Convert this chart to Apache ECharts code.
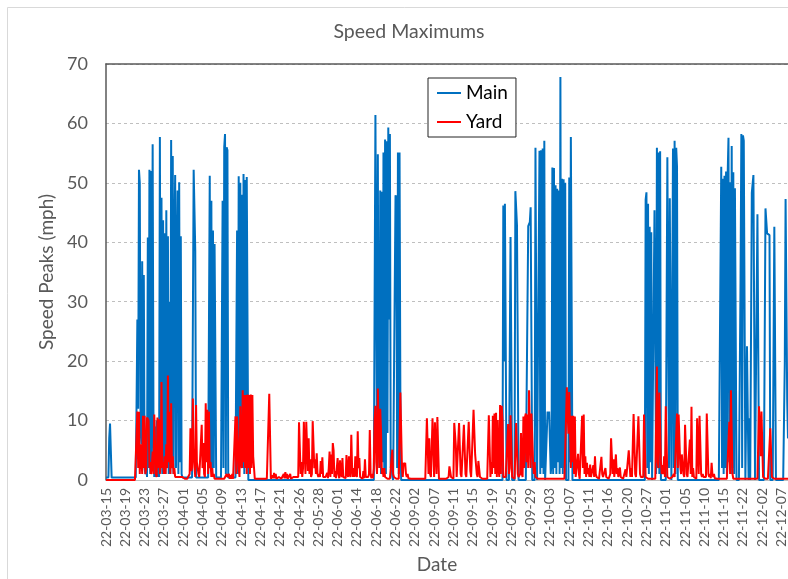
<!DOCTYPE html>
<html>
<head>
<meta charset="utf-8">
<script src="https://cdn.jsdelivr.net/npm/echarts@6/dist/echarts.min.js"></script>
<style>
  html, body { margin: 0; padding: 0; background: #ffffff; overflow: hidden; }
  /* the chart area runs slightly past the right edge of the window */
  #chart { width: 800px; height: 579px; }
</style>
</head>
<body>
<div id="chart"></div>
<script>
// Date shown under every 24th reading
const tickLabels = [
  '22-03-15', '22-03-19', '22-03-23', '22-03-27', '22-04-01', '22-04-05',
  '22-04-09', '22-04-13', '22-04-17', '22-04-21', '22-04-26', '22-05-28',
  '22-06-01', '22-06-14', '22-06-18', '22-06-22', '22-09-02', '22-09-07',
  '22-09-11', '22-09-15', '22-09-19', '22-09-25', '22-09-29', '22-10-03',
  '22-10-07', '22-10-11', '22-10-16', '22-10-20', '22-10-27', '22-11-01',
  '22-11-05', '22-11-10', '22-11-15', '22-11-22', '22-12-02', '22-12-07'
];
const readingsPerLabel = 24;

// Peak speed (mph) on the main line, one row per labelled date
const mainSpeed = [
  0.4, 0.4, 0.4, 0.4, 7, 9.5, 9.3, 0.4, 0.4, 0.4, 0.4, 0.4, 0.4, 0.4, 0.4, 0.4, 0.4, 0.4, 0.4, 0.4, 0.4, 0.4, 0.4, 0.4,
  0.4, 0.4, 0.4, 0.4, 0.4, 0.4, 0.4, 0.4, 0.4, 0.4, 0.4, 0.4, 0.4, 0.4, 13, 27, 12, 52.2, 50, 8.5, 6, 36.8, 3, 34.5,
  2, 1, 3, 0.5, 40.8, 2, 52.2, 1, 52, 3, 56.5, 11.5, 0.5, 9, 0.5, 10, 0.5, 6, 0.5, 57.7, 2, 47.5, 1, 43.7,
  2, 41.5, 1, 45.4, 2, 41, 1, 30, 1, 57.2, 2, 54.5, 1, 40, 51.3, 2, 36.5, 48.7, 1, 50.1, 3, 41, 1, 0.4,
  0.4, 0.4, 0.4, 0.4, 0.4, 0.4, 0.4, 0.4, 0.4, 0.4, 0.4, 0.4, 0.4, 52.2, 52, 38.5, 0.4, 0.4, 0.4, 0.4, 0.4, 0.4, 0.4, 0.4,
  0.4, 0.4, 0.4, 0.4, 0.4, 0.4, 0.4, 0.4, 0.4, 51.2, 2, 47, 1, 42, 2, 39.7, 39.6, 0.4, 0.4, 0.4, 0.4, 0.4, 0.4, 0.4,
  0.4, 47, 2, 56, 58.2, 1, 56, 55.5, 0.4, 0.4, 0.4, 0.4, 0.4, 0.4, 0.4, 0.4, 0.4, 0.4, 0.4, 42, 1, 51.1, 2, 50,
  3, 48, 2, 51.5, 1, 50.5, 2, 51, 50.7, 0, 0, 0, 0, 0, 0, 0, 0, 0, 0, 0, 0, 0, 0, 0,
  0, 0, 0, 0, 0, 0, 0, 0, 0, 0, 0, 0, 0, 0, 0, 0, 0, 0, 0, 0, 0, 0, 0, 0,
  0, 0, 0, 0, 0, 0, 0, 0, 0, 0, 0, 0, 0, 0, 0, 0, 0, 0, 0, 0, 0, 0, 0, 0,
  0, 0, 0, 0, 0, 0, 0, 0, 0, 0, 0, 0, 0, 0, 0, 0, 0, 0, 0, 0, 0, 0, 0, 0,
  0, 0, 0, 0, 0, 0, 0, 0, 0, 0, 0, 0, 0, 0, 0, 0, 0, 0, 0, 0, 0, 0, 0, 0,
  0, 0, 0, 0, 0, 0, 0, 0, 0, 0, 0, 0, 0, 0, 0, 0, 0, 0, 0, 0, 0, 0, 0, 0,
  0, 0, 0, 0, 0, 0, 0, 0, 0, 0, 0, 0, 0, 0, 0, 0, 0, 0, 0, 0, 0, 0, 0, 61.4,
  61.4, 3, 54.8, 7, 2, 48.7, 1, 48.5, 3, 55.1, 2, 57.3, 1, 57, 7.9, 59.3, 27, 58.2, 2, 3, 0.5, 0, 0, 0,
  47.9, 47.5, 2, 55.1, 1, 55.1, 15, 0, 0, 0, 0, 0, 0, 0, 0, 0, 0, 0, 0, 0, 0, 0, 0, 0,
  0, 0, 0, 0, 0, 0, 0, 0, 0, 0, 0, 0, 0, 0, 0, 0, 0, 0, 0, 0, 0, 0, 0, 0,
  0, 0, 0, 0, 0, 0, 0, 0, 0, 0, 0, 0, 0, 0, 0, 0, 0, 0, 0, 0, 0, 0, 0, 0,
  0, 0, 0, 0, 0, 0, 0, 0, 0, 0, 0, 0, 0, 0, 0, 0, 0, 0, 0, 0, 0, 0, 0, 0,
  0, 0, 0, 0, 0, 0, 0, 0, 0, 0, 0, 0, 0, 0, 0, 0, 0, 0, 0, 0, 0, 0, 0, 0,
  0, 0, 0, 0, 0, 0, 0, 0, 0, 0, 0, 0, 0, 0, 46.2, 20, 46.5, 46.4, 0, 0, 0, 0, 0, 40.9,
  40.9, 0, 0, 0, 0, 48.6, 48.5, 42.9, 42.8, 0, 0, 0, 0, 0, 0, 0, 0, 0, 0, 0, 0, 42.7, 43, 43.4,
  45.9, 45.8, 0, 0, 0, 0, 55.9, 55.8, 0, 0, 0, 55.4, 1, 55.5, 2, 55.8, 1, 57.1, 0, 0, 0, 11.5, 11, 11.5,
  11.5, 1, 3, 52.6, 1, 52.5, 2, 49.6, 1, 49, 3, 48.7, 1, 67.8, 2, 50.7, 1, 50.6, 2, 50, 0, 0, 0, 0,
  50.9, 3, 57.7, 57.6, 0, 0, 0, 0, 0, 0, 0, 0, 0, 0, 0, 0, 0, 0, 0, 0, 0, 0, 0, 0,
  0, 0, 0, 0, 0, 0, 0, 0, 0, 0, 0, 0, 0, 0, 0, 0, 0, 0, 0, 0, 0, 0, 0, 0,
  0, 0, 0, 0, 0, 0, 0, 0, 0, 0, 0, 0, 0, 0, 0, 0, 0, 0, 0, 0, 0, 0, 0, 0,
  0, 0, 0, 0, 0, 0, 0, 0, 0, 0, 0, 0, 0, 0, 0, 0, 0, 0, 0, 0, 0, 0, 0, 47.2,
  48.4, 2, 46.5, 1, 42.6, 3, 41.7, 0, 0, 0, 45.4, 45.3, 1, 55.9, 2, 55.1, 1, 55.3, 0, 0, 0, 0, 0, 0,
  0, 0, 54.3, 54.2, 2, 47.4, 47.3, 0, 0, 55.8, 2, 57.1, 1, 55.9, 52.7, 0, 0, 0, 0, 0, 0, 0, 0, 0,
  0, 0, 0, 0, 0, 0, 0, 0, 0, 0, 0, 0, 0, 0, 0, 0, 0, 0, 0, 0, 0, 0, 0, 0,
  0, 0, 0, 0, 0, 0, 0, 0, 0, 0, 0, 0, 0, 0, 0, 0, 0, 0, 0, 0, 0, 52.7, 2, 50.7,
  1, 51.2, 2, 51.9, 1, 51.5, 57.6, 3, 50.1, 1, 56.2, 2, 51.8, 1, 49.1, 49, 0, 0, 0, 0, 0, 34, 58.2, 2,
  58, 57.1, 57, 0, 0, 22.5, 22.4, 0, 10.4, 0, 0, 48.3, 48.2, 51.3, 51.2, 0, 0, 0, 44.7, 44.6, 0, 0, 0, 0,
  0, 0, 0, 0, 45.7, 45.6, 41.5, 41.4, 41.3, 41.2, 0, 0, 0, 0, 0, 42.6, 42.6, 0, 0, 0, 0, 0, 0, 0,
  0, 0, 0, 0, 19.6, 47.3, 47.2, 13.4, 7
];

// Peak speed (mph) in the yard, one row per labelled date
const yardSpeed = [
  0, 0, 0, 0, 0, 0, 0, 0, 0, 0, 0, 0, 0, 0, 0, 0, 0, 0, 0, 0, 0, 0, 0, 0,
  0, 0, 0, 0, 0, 0, 0, 0, 0, 0, 0, 0, 0, 0, 0, 11.5, 2, 11.5, 1, 6, 4, 1, 10.8, 2,
  10.8, 1, 2, 10.5, 10.5, 10, 2, 3, 1, 2.5, 4.8, 1, 11, 10.8, 1, 0.5, 10.5, 2, 10.2, 1, 3, 16.5, 2, 3,
  1, 4, 1, 6, 2, 17.6, 3, 11.5, 1, 12.9, 2, 4, 1, 2, 0.5, 0.5, 0.2, 0.5, 0.2, 0.2, 0.5, 0.2, 0.2, 0.5,
  0.5, 0.2, 0.2, 0.5, 0.2, 0.2, 0.5, 0.2, 1, 8.7, 1.5, 2, 13.7, 4, 4, 0.5, 12.6, 3, 3.2, 1, 0.5, 0.2, 0.5, 9.3,
  2, 6.2, 1, 0.5, 12.9, 3, 11.8, 1, 11.5, 2, 3, 0.5, 2, 0.5, 1, 0.2, 0.2, 0.2, 0.2, 0.2, 0.2, 0.2, 0.2, 0.2,
  0.2, 0.2, 0.2, 0.2, 0.2, 0.2, 1, 0.5, 0.2, 1, 0.2, 0.8, 0.2, 1, 0.2, 0.2, 0.5, 10.7, 1, 10.7, 10.5, 2, 0.5, 12.4,
  3, 2, 15.1, 3, 14.3, 2, 14.3, 1, 14.4, 2, 14.3, 1, 14.4, 2, 14.3, 4, 4, 0.2, 0.2, 0.2, 0.2, 0.2, 0.2, 0.2,
  0.2, 0.2, 0.2, 0.2, 0.2, 0.2, 0.2, 0.2, 0.2, 0.2, 0.2, 14.5, 14.3, 0.2, 0.2, 0.8, 0.3, 1.2, 0.3, 1, 0.2, 0.5, 0.2, 0.5,
  0.2, 0.8, 0.2, 0.5, 0.2, 1, 0.3, 1.3, 0.3, 1, 0.2, 0.5, 0.2, 1, 0.2, 0.3, 0.2, 0.5, 0.2, 0.2, 0.5, 0.2, 0.2, 0.5,
  9.7, 9.7, 1, 3, 0.5, 2, 9.8, 5.5, 1, 9.8, 9.7, 1.5, 7, 1, 3.5, 0.5, 1, 9.9, 9.8, 2, 3.5, 1, 4.5, 1,
  0.5, 1, 0.5, 3.2, 1, 3.8, 0.5, 0.8, 0.2, 0.5, 0.2, 1.2, 0.3, 2, 4.8, 0.5, 4.3, 1, 6.2, 5, 0.5, 1.5, 0.3, 0.5,
  3.7, 1, 0.3, 3.3, 1, 0.5, 3.7, 0.5, 0.3, 0.5, 0.3, 4.2, 1, 0.5, 4, 1, 0.5, 7.6, 2, 0.5, 2, 0.5, 4, 1,
  0.5, 8.2, 2, 3.7, 0.5, 0.2, 0.5, 0.2, 1.5, 0.3, 3.5, 0.5, 0.3, 0.2, 0.5, 1, 8.4, 1, 0.3, 1, 0.3, 2, 10.1, 12.5,
  3, 1, 15.4, 15.3, 2, 12, 8, 1, 2, 0.5, 2, 0.5, 0.2, 0.2, 0.2, 0.2, 0.2, 0.2, 0.2, 0.5, 5.1, 1, 0.5, 0.2,
  0.2, 0.2, 0.2, 0.2, 0.2, 0.2, 14.7, 14.7, 2, 0.5, 2.9, 2.5, 2.9, 1, 0.5, 1, 0.3, 0.2, 0.2, 0.2, 0.2, 0.2, 0.2, 0.2,
  0.2, 0.2, 0.2, 0.5, 0.2, 0.2, 0.2, 0.2, 0.2, 0.4, 0.2, 0.2, 0.2, 0.2, 0.2, 10.4, 10.3, 1, 7, 1, 0.5, 0.5, 10.4, 10.3,
  0.5, 9.7, 9.6, 1, 10.6, 10.5, 0.2, 0.2, 0.2, 0.2, 0.2, 0.2, 0.2, 0.2, 0.2, 0.2, 0.5, 0.2, 0.5, 2.3, 2.2, 0.5, 0.2, 0.2,
  0.2, 9.6, 9.5, 5.7, 0.5, 0.2, 0.5, 9.6, 9.5, 1, 0.5, 0.2, 0.5, 9.3, 9.2, 1, 0.5, 0.2, 0.5, 9.8, 9.7, 1.5, 0.5, 0.2,
  0.5, 11.8, 11.7, 4.3, 4.2, 1, 0.5, 3.2, 3, 0.5, 0.2, 0.5, 0.2, 0.5, 0.2, 0.2, 0.2, 0.2, 0.2, 0.2, 10.9, 10.8, 0.5, 3,
  1, 10.8, 2, 11.2, 1, 11.3, 0.5, 10.1, 2, 0.5, 12.6, 1, 12.5, 10, 0.5, 0.2, 0.2, 0.5, 0.2, 0.5, 9.4, 1, 2, 10.9,
  10.8, 0.5, 0.2, 0.5, 0.2, 0.5, 9.6, 9.5, 1, 0.5, 0.3, 1, 7.9, 1, 0.5, 10.7, 2, 10.6, 11.2, 3, 11, 2, 15.1, 15,
  2, 11.2, 11, 3, 1, 3, 0.5, 0.2, 0.2, 0.2, 0.2, 0.2, 0.2, 0.2, 0.2, 0.2, 0.2, 0.2, 0.2, 0.2, 0.2, 0.2, 0.2, 0.2,
  0.2, 0.2, 0.2, 0.2, 0.2, 0.2, 0.2, 0.2, 0.2, 0.2, 0.2, 0.2, 0.2, 0.2, 0.2, 0.2, 0.2, 0.2, 0.2, 0.2, 0.5, 15.6, 11.2, 7.8,
  14.8, 14.7, 2, 10.8, 3, 10.8, 1, 10.7, 0.5, 0.2, 0.5, 4.4, 1, 0.2, 0.5, 0.5, 10.8, 2, 11, 1, 4, 0.5, 2.9, 1,
  2, 0.5, 2.6, 0.5, 0.2, 0.5, 2.5, 0.5, 4, 1, 0.5, 0.2, 0.5, 0.2, 0.5, 0.3, 3.9, 1, 0.5, 0.2, 0.5, 2, 0.5, 0.2,
  0.5, 0.2, 0.5, 1, 7, 6.9, 1, 3.5, 0.5, 0.3, 4.3, 1, 2, 0.5, 0.3, 2.1, 0.5, 0.2, 0.5, 0.2, 0.5, 0.2, 1.8, 0.5,
  0.2, 0.5, 5, 4.8, 0.5, 2, 0.5, 0.3, 11.1, 11, 1, 0.5, 0.2, 0.5, 10.7, 10.6, 1, 0.5, 0.2, 0.5, 0.5, 11, 10.9, 0.5,
  0.2, 0.2, 0.2, 0.2, 0.2, 0.2, 0.2, 0.2, 0.2, 0.2, 0.2, 0.2, 0.5, 19.1, 3, 2, 14.7, 14.6, 3, 1, 2.5, 1, 4, 0.5,
  12.4, 12.3, 0.5, 0.2, 0.5, 0.2, 0.5, 0.2, 0.5, 0.2, 1, 0.5, 0.2, 0.5, 11.2, 2, 11, 10.8, 2.5, 1, 4.3, 4.2, 1, 0.5,
  9.3, 9.2, 1, 0.5, 0.2, 0.5, 6.8, 1, 12.3, 0.5, 2, 0.5, 0.2, 0.5, 0.2, 10.4, 10.3, 1, 10.8, 10.7, 1, 0.5, 1, 0.5,
  0.5, 0.2, 0.5, 11.2, 11.1, 1, 0.5, 1, 0.3, 2.9, 1, 0.5, 1, 0.3, 0.2, 0.2, 0.2, 0.2, 0.2, 0.2, 0.2, 0.2, 0.2, 0.2,
  0.2, 0.2, 0.2, 0.2, 0.2, 0.2, 0.2, 9.8, 1, 15.1, 15, 1, 0.2, 0.2, 0.2, 0.2, 0.2, 0.2, 0.2, 0.2, 0.2, 0.2, 0.2, 0.2,
  0.2, 0.2, 0.2, 0.2, 0.2, 0.2, 0.2, 0.2, 0.2, 0.2, 0.2, 0.2, 0.2, 0.2, 0.2, 0.2, 0.2, 0.2, 0.2, 0.5, 12.4, 12.3, 4, 11.5,
  11.4, 0.5, 0.2, 0.2, 0.2, 0.2, 0.2, 0.2, 0.2, 0.2, 8.7, 8.6, 0.5, 0.2, 0.2, 0.2, 0.2, 0.2, 0.2, 0.2, 0.2, 0.2, 0.2, 0.2,
  0.2, 0.2, 0.2, 0.2, 0.2, 0.2, 0.2, 0.2, 0.2
];

const seriesNames = ['Main', 'Yard'];
const seriesColors = ['#0070C0', '#FF0000'];

const readingIndex = mainSpeed.map((_, i) => i);
const textGrey = '#595959';
const fontFamily = 'Lato, "Liberation Sans", sans-serif';

const chart = echarts.init(document.getElementById('chart'), null, { renderer: 'canvas' });

const dateLabel = (value, index) =>
  index % readingsPerLabel === 0 ? (tickLabels[index / readingsPerLabel] || '') : '';

chart.setOption({
  animation: false,
  backgroundColor: '#ffffff',
  textStyle: { fontFamily: fontFamily },
  title: {
    text: 'Speed Maximums',
    left: 404,
    top: 17,
    textAlign: 'center',
    textStyle: { fontSize: 19.5, fontWeight: 'normal', color: textGrey, fontFamily: fontFamily }
  },
  graphic: [{
    type: 'rect',
    shape: { x: 7.5, y: 7.5, width: 820, height: 600 },
    style: { fill: 'none', stroke: '#d9d9d9', lineWidth: 1 },
    silent: true,
    z: -1
  }],
  legend: {
    data: seriesNames,
    orient: 'vertical',
    left: 428,
    top: 78,
    padding: [4, 8, 4, 9],
    itemGap: 7,
    itemWidth: 24,
    itemHeight: 2,
    icon: 'rect',
    backgroundColor: '#ffffff',
    borderColor: '#222222',
    borderWidth: 1,
    borderRadius: 0,
    textStyle: { fontSize: 19, color: '#000000', lineHeight: 22, fontFamily: fontFamily }
  },
  grid: { left: 106, right: 12, top: 64, bottom: 95, containLabel: false },
  xAxis: [{
    type: 'category',
    data: readingIndex,
    boundaryGap: false,
    name: 'Date',
    nameLocation: 'middle',
    nameGap: 72,
    nameTextStyle: { fontSize: 19, color: textGrey, padding: [0, 20, 0, 0], fontFamily: fontFamily },
    axisLine: { show: true, lineStyle: { color: '#bfbfbf', width: 1 } },
    axisTick: { show: false },
    axisLabel: {
      interval: readingsPerLabel - 1,
      rotate: 90,
      fontSize: 14,
      color: textGrey,
      margin: 8,
      hideOverlap: false,
      formatter: dateLabel
    },
    splitLine: { show: false }
  }, {
    type: 'category',
    data: readingIndex,
    boundaryGap: false,
    position: 'top',
    axisLine: { show: true, onZero: false, lineStyle: { color: textGrey, width: 1.5 } },
    axisTick: { show: false },
    axisLabel: { show: false },
    splitLine: { show: false }
  }],
  yAxis: {
    type: 'value',
    min: 0,
    max: 70,
    interval: 10,
    name: 'Speed Peaks (mph)',
    nameLocation: 'middle',
    nameGap: 46,
    nameTextStyle: { fontSize: 19, color: textGrey, fontFamily: fontFamily },
    axisLine: { show: true, lineStyle: { color: textGrey, width: 1.5 } },
    axisTick: { show: false },
    axisLabel: { fontSize: 18, color: textGrey, margin: 18 },
    splitLine: { show: true, lineStyle: { color: '#bfbfbf', type: [3, 3], width: 1 } }
  },
  series: [
    {
      name: seriesNames[0],
      type: 'line',
      data: mainSpeed,
      symbol: 'none',
      color: seriesColors[0],
      lineStyle: { width: 2, color: seriesColors[0] },
      emphasis: { disabled: true }
    },
    {
      name: seriesNames[1],
      type: 'line',
      data: yardSpeed,
      symbol: 'none',
      color: seriesColors[1],
      lineStyle: { width: 2, color: seriesColors[1] },
      emphasis: { disabled: true }
    }
  ]
});
</script>
</body>
</html>
